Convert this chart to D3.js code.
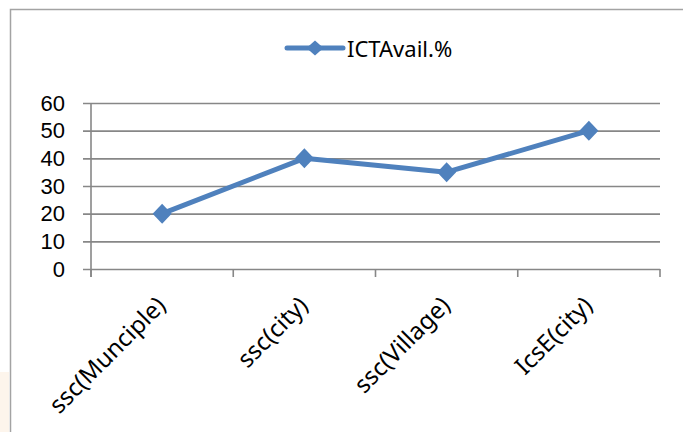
<!DOCTYPE html>
<html>
<head>
<meta charset="utf-8">
<script src="https://cdn.jsdelivr.net/npm/d3@7"></script>
<style>
  body { margin: 0; background: #fff; }
  svg { display: block; font-family: "Noto Sans", "Open Sans", sans-serif; }
</style>
</head>
<body>
<div id="chart-area"></div>
<script>
const categories = ["ssc(Munciple)", "ssc(city)", "ssc(Village)", "IcsE(city)"]
const values = [20, 40, 35, 50]
const yTicks = [0, 10, 20, 30, 40, 50, 60]
const seriesName = "ICTAvail.%"

const MARGIN = { LEFT: 91, TOP: 103 }
const WIDTH = 569
const HEIGHT = 166
const BLUE = "#4F81BD"
const GRID = "#878787"

const svg = d3.select("#chart-area").append("svg")
  .attr("width", 683)
  .attr("height", 432)

// faint paper tint bottom-left
svg.append("rect")
  .attr("x", 0).attr("y", 372).attr("width", 9).attr("height", 60)
  .attr("fill", "#fdf5ec")

// chart frame (only top and left visible)
svg.append("path")
  .attr("d", "M10.5,432 L10.5,9.5 L683,9.5")
  .attr("fill", "none")
  .attr("stroke", "#a3a3a3")
  .attr("stroke-width", 1.5)

const g = svg.append("g")
  .attr("transform", `translate(${MARGIN.LEFT}, ${MARGIN.TOP})`)

const x = d3.scaleBand()
  .domain(categories)
  .range([0, WIDTH])
  .padding(0)

const y = d3.scaleLinear()
  .domain([0, 60])
  .range([HEIGHT, 0])

// Y axis with gridlines
const yAxisCall = d3.axisLeft(y)
  .tickValues(yTicks)
  .tickSize(-(WIDTH + 8))
  .tickPadding(18)

const yAxis = g.append("g")
  .attr("class", "y axis")
  .attr("transform", "translate(-8, 0)")
  .call(yAxisCall)
yAxis.select(".domain").remove()
yAxis.selectAll("line")
  .attr("stroke", GRID)
  .attr("stroke-width", 1.6)
yAxis.selectAll("text")
  .attr("font-size", "22px")
  .attr("fill", "#000")

// vertical axis line
g.append("line")
  .attr("x1", 0).attr("x2", 0)
  .attr("y1", 0).attr("y2", HEIGHT + 8)
  .attr("stroke", GRID)
  .attr("stroke-width", 1.6)

// x ticks at band edges
const edges = categories.map(c => x(c)).concat([x.range()[1]])
g.selectAll(".xtick")
  .data(edges)
  .enter().append("line")
  .attr("class", "xtick")
  .attr("x1", d => d).attr("x2", d => d)
  .attr("y1", HEIGHT).attr("y2", HEIGHT + 8)
  .attr("stroke", GRID)
  .attr("stroke-width", 1.6)

// x labels
g.selectAll(".xlabel")
  .data(categories)
  .enter().append("text")
  .attr("class", "xlabel")
  .attr("font-size", "24px")
  .attr("text-anchor", "end")
  .attr("transform", d => `translate(${x(d) + x.bandwidth() / 2 + 5}, ${HEIGHT + 38}) rotate(-45)`)
  .text(d => d)

// series line
const line = d3.line()
  .x((d, i) => x(categories[i]) + x.bandwidth() / 2)
  .y(d => y(d))

g.append("path")
  .datum(values)
  .attr("d", line)
  .attr("fill", "none")
  .attr("stroke", BLUE)
  .attr("stroke-width", 5)
  .attr("stroke-linejoin", "round")

const diamond = (w, h) => `M0,${-h} L${w},0 L0,${h} L${-w},0 Z`

g.selectAll(".marker")
  .data(values)
  .enter().append("path")
  .attr("class", "marker")
  .attr("d", diamond(9.5, 10))
  .attr("transform", (d, i) => `translate(${x(categories[i]) + x.bandwidth() / 2}, ${y(d)})`)
  .attr("fill", BLUE)

// legend
const legend = svg.append("g")
  .attr("transform", "translate(287, 48)")
legend.append("line")
  .attr("x1", 0).attr("x2", 56)
  .attr("y1", 0).attr("y2", 0)
  .attr("stroke", BLUE)
  .attr("stroke-width", 5)
  .attr("stroke-linecap", "round")
legend.append("path")
  .attr("d", diamond(8.5, 7.5))
  .attr("transform", "translate(28, 0)")
  .attr("fill", BLUE)
legend.append("text")
  .attr("x", 60)
  .attr("y", 9)
  .attr("font-size", "22px")
  .text(seriesName)
</script>
</body>
</html>
